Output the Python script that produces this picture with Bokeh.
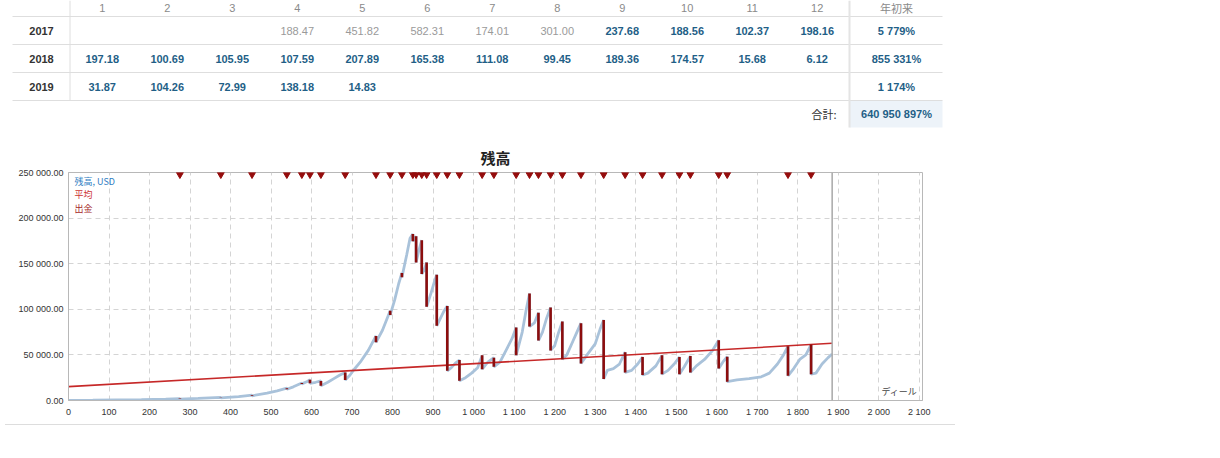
from bokeh.plotting import figure
from bokeh.models import Range1d, FixedTicker, Span, Label, ColumnDataSource, Div
from bokeh.layouts import column, row
from bokeh.core.properties import value
from bokeh.embed import file_html
from bokeh.resources import INLINE

# ---------------- data: monthly table ----------------
years = ["2017", "2018", "2019"]
month_labels = [str(m) for m in range(1, 13)]
ret_2017 = [None, None, None, 188.47, 451.82, 582.31, 174.01, 301.00, 237.68, 188.56, 102.37, 198.16]
ret_2018 = [197.18, 100.69, 105.95, 107.59, 207.89, 165.38, 111.08, 99.45, 189.36, 174.57, 15.68, 6.12]
ret_2019 = [31.87, 104.26, 72.99, 138.18, 14.83, None, None, None, None, None, None, None]
ytd_header = "年初来"
ytd_labels = ["5 779%", "855 331%", "1 174%"]
total_caption = "合計:"
total_label = "640 950 897%"
dim_cells = [("2017", 4), ("2017", 5), ("2017", 6), ("2017", 7), ("2017", 8)]

# ---------------- data: balance chart ----------------
curve_deal = [0, 60, 120, 180, 240, 320, 420, 490, 515, 555, 588, 610, 640, 655, 670, 695, 705, 720, 740,
              775, 805, 815, 835, 843, 865, 878, 895, 903, 920, 928, 945, 955, 980, 995, 1010, 1035, 1065,
              1080, 1095, 1120, 1130, 1150, 1170, 1180, 1200, 1210, 1230, 1245, 1255, 1280, 1300, 1312,
              1330, 1345, 1360, 1390, 1405, 1430, 1450, 1480, 1495, 1520, 1550, 1570, 1590, 1615, 1650,
              1680, 1710, 1730, 1750, 1765, 1790, 1805, 1820, 1845, 1860, 1875, 1885]
curve_bal = [200, 400, 700, 1000, 1600, 2300, 4200, 8000, 10500, 15000, 20500, 20000, 20000, 24000, 28000,
             28000, 34000, 42000, 55000, 77000, 110000, 128000, 160000, 178000, 165000, 143000, 118000,
             130000, 92000, 99000, 36000, 41000, 25000, 30000, 36000, 42000, 42000, 55000, 68000, 75000,
             100000, 85000, 75000, 90000, 60000, 75000, 50000, 65000, 75000, 50000, 62000, 78000, 33000,
             35000, 40000, 33000, 40000, 30000, 38000, 33000, 40000, 37000, 38000, 45000, 55000, 42000,
             22500, 24000, 26000, 30000, 40000, 50000, 35000, 45000, 50000, 30000, 40000, 47000, 51000]

wd_deal = [275, 376, 453, 539, 576, 596, 623, 683, 759, 794, 823, 850, 858, 872, 884, 909, 935, 965,
           1021, 1050, 1105, 1138, 1160, 1190, 1219, 1265, 1321, 1374, 1417, 1465, 1508, 1535, 1605,
           1626, 1776, 1833]
wd_before = [2100, 3400, 6000, 13500, 19200, 22800, 21400, 30800, 70800, 98400, 139900, 182600, 180100,
             175800, 151300, 138000, 103500, 44400, 49500, 47000, 80000, 117200, 96200, 102000, 86500,
             84800, 88300, 53000, 47600, 49500, 47600, 48700, 66000, 48100, 59500, 61300]
wd_after = [1600, 2900, 5200, 12300, 18200, 18900, 16300, 22500, 63800, 93700, 135100, 174700, 151300,
            138800, 102700, 81900, 32500, 21700, 34300, 37000, 49500, 81100, 65700, 54900, 45100, 40500,
            23500, 30800, 27900, 28900, 28900, 30800, 35100, 20600, 27100, 28900]

avg_deal = [0, 1885]
avg_value = [15200, 62700]

x_ticks = list(range(0, 2101, 100))
y_ticks = list(range(0, 250001, 50000))
chart_title = "残高"
legend_texts = ["残高, USD", "平均", "出金"]
axis_caption = "ディール"

# ---------------- styles ----------------
W = 950
LAT = "Liberation Sans"
CJK = "Noto Sans CJK JP"
TEAL = "#1f5f87"
DIM = "#9a9a9a"
HEAD = "#8a8a8a"
LINE = "#dedede"

# ---------------- table figure ----------------
TH = 140
t = figure(width=W, height=TH, x_range=Range1d(0, W), y_range=Range1d(TH, 0),
           output_backend="svg", toolbar_location=None, min_border=0,
           x_axis_location=None, y_axis_location=None)
t.grid.visible = False
t.outline_line_color = None

COL0, COLW, YTD_X, YEAR_X = 101.7, 65.0, 896.0, 41.0
ROW_Y = [30, 58, 86]
HEAD_Y, TOT_Y = 7, 113

t.quad(left=[849], right=[942], top=[100], bottom=[127], fill_color="#edf3f9", line_color=None)
t.segment(x0=[12] * 4, x1=[942] * 4, y0=[16, 44, 72, 100], y1=[16, 44, 72, 100], line_color=LINE, line_width=1)
t.segment(x0=[69.5], x1=[69.5], y0=[0], y1=[100], line_color=LINE, line_width=1)
t.segment(x0=[849], x1=[849], y0=[0], y1=[127], line_color="#e4e4e4", line_width=2)

t.text(x=[COL0 + COLW * i for i in range(12)], y=[HEAD_Y] * 12, text=month_labels,
       text_font=value(LAT), text_font_size=value("11px"), text_color=HEAD,
       text_align="center", text_baseline="middle")
t.text(x=[YTD_X], y=[HEAD_Y], text=[ytd_header], text_font=value(CJK), text_font_size=value("11px"),
       text_color=HEAD, text_align="center", text_baseline="middle")
t.text(x=[YEAR_X] * 3, y=ROW_Y, text=years, text_font=value(LAT), text_font_size=value("11px"),
       text_font_style="bold", text_color="#333333", text_align="center", text_baseline="middle")

cx, cy, ct, cc, cs = [], [], [], [], []
for yr, ry, vals in zip(years, ROW_Y, [ret_2017, ret_2018, ret_2019]):
    for i, v in enumerate(vals):
        if v is None:
            continue
        dim = (yr, i + 1) in dim_cells
        cx.append(COL0 + COLW * i)
        cy.append(ry)
        ct.append(f"{v:.2f}")
        cc.append(DIM if dim else TEAL)
        cs.append("normal" if dim else "bold")
cells = ColumnDataSource(dict(x=cx, y=cy, text=ct, color=cc, style=cs))
t.text(x="x", y="y", text="text", text_color="color", text_font_style="style", source=cells,
       text_font=value(LAT), text_font_size=value("11px"), text_align="center", text_baseline="middle")
t.text(x=[YTD_X] * 3, y=ROW_Y, text=ytd_labels, text_font=value(LAT), text_font_size=value("11px"),
       text_font_style="bold", text_color=TEAL, text_align="center", text_baseline="middle")
t.text(x=[836], y=[TOT_Y], text=[total_caption], text_font=value(CJK), text_font_size=value("11px"),
       text_color="#333333", text_align="right", text_baseline="middle")
t.text(x=[YTD_X], y=[TOT_Y], text=[total_label], text_font=value(LAT), text_font_size=value("11px"),
       text_font_style="bold", text_color=TEAL, text_align="center", text_baseline="middle")

# ---------------- chart figure ----------------
PH = 279
X_END = 2108
Y_MAX = 250000
p = figure(width=W, height=PH, x_range=Range1d(0, X_END), y_range=Range1d(0, Y_MAX),
           output_backend="svg", toolbar_location=None, title=chart_title,
           min_border_left=68, min_border_right=W - 922, min_border_top=31, min_border_bottom=18)
p.title.align = "center"
p.title.text_font = CJK
p.title.text_font_size = "15px"
p.title.text_font_style = "bold"
p.title.text_color = "#222222"
p.title.standoff = 9
p.outline_line_color = "#b8b8b8"
p.background_fill_color = "white"

p.xaxis.ticker = FixedTicker(ticks=x_ticks)
p.xaxis.major_label_overrides = {v: f"{v:,}".replace(",", " ") for v in x_ticks}
p.yaxis.ticker = FixedTicker(ticks=y_ticks)
p.yaxis.major_label_overrides = {v: f"{v:,.2f}".replace(",", " ") for v in y_ticks}
for ax in (p.xaxis, p.yaxis):
    ax.axis_line_color = "#b8b8b8"
    ax.major_tick_line_color = None
    ax.minor_tick_line_color = None
    ax.major_tick_out = 0
    ax.major_tick_in = 0
    ax.minor_tick_out = 0
    ax.minor_tick_in = 0
    ax.major_label_text_font = LAT
    ax.major_label_text_font_size = "9px"
    ax.major_label_text_color = "#333333"
p.xaxis.major_label_standoff = 6
p.yaxis.major_label_standoff = 5
p.grid.grid_line_color = "#d4d4d4"
p.grid.grid_line_dash = "5 4"

# balance series: regular points plus (before, after) pairs at each withdrawal
pts = [(d, 1, b) for d, b in zip(curve_deal, curve_bal)]
pts += [(d, 0, b) for d, b in zip(wd_deal, wd_before)]
pts += [(d, 2, b) for d, b in zip(wd_deal, wd_after)]
pts.sort(key=lambda q: (q[0], q[1]))
bal_x = [q[0] for q in pts]
bal_y = [q[2] for q in pts]

p.line(bal_x, bal_y, line_color="#a9c2da", line_width=2.8)
p.line(avg_deal, avg_value, line_color="#c62828", line_width=1.6)
p.segment(x0=wd_deal, x1=wd_deal, y0=wd_before, y1=wd_after, line_color="#8c0d0d", line_width=2.6)

FRAME_H = 230
tri_y = [Y_MAX - 2.0 * Y_MAX / FRAME_H] * len(wd_deal)
p.scatter(x=wd_deal, y=tri_y, marker="inverted_triangle", size=7,
          fill_color="#950c0c", line_color="#950c0c")

p.add_layout(Span(location=max(bal_x), dimension="height", line_color="#a8a8a8", line_width=1.5))

for txt, col, off in zip(legend_texts, ["#2f7dc2", "#cc3333", "#a52828"], [-9, -22, -36]):
    p.add_layout(Label(x=0, y=Y_MAX, x_offset=6, y_offset=off, text=txt, text_color=col,
                       text_font=CJK, text_font_size="9px", text_baseline="middle"))
p.add_layout(Label(x=X_END, y=0, x_offset=-5, y_offset=3, text=axis_caption, text_color="#444444",
                   text_font=CJK, text_font_size="9px", text_align="right", text_baseline="bottom"))

sep = Div(text="", width=W, height=2, styles={"border-top": "1px solid #dddddd"})

layout = column(row(t), row(p), sep)
open("out.html", "w").write(file_html(layout, INLINE))
